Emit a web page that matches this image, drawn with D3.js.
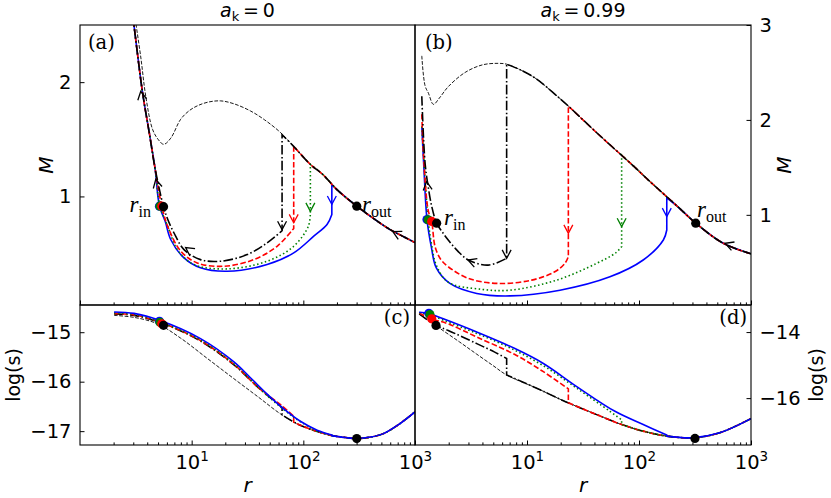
<!DOCTYPE html>
<html>
<head>
<meta charset="utf-8">
<script src="https://cdn.jsdelivr.net/npm/d3@7"></script>
<style>
  body { margin: 0; background: #fff; }
  svg { display: block; }
</style>
</head>
<body>
<div id="chart"></div>
<script>
// curve order in every per-curve list: black (dash-dot), red (dashed), green (dotted), blue (solid)
const curveNames = ["black", "red", "green", "blue"];

// ---- (a) a_k = 0 : Mach number ----
const aOuterR = [3.07, 3.5, 3.88, 4.46, 5.0, 5.62, 6.5, 7.97, 9.5, 11.2, 14, 18.2, 24, 33.6, 45, 62.3, 81.5, 115.6, 150, 200, 301, 450, 598, 800, 1000];
const aOuterM = [2.6, 2.22, 1.877, 1.588, 1.5, 1.456, 1.51, 1.675, 1.75, 1.792, 1.825, 1.836, 1.81, 1.748, 1.67, 1.56, 1.44, 1.28, 1.19, 1.06, 0.915, 0.79, 0.71, 0.645, 0.596];
const aInnerR = [2.95, 3.05, 3.63, 4.2, 4.7];
const aInnerM = [2.6, 2.49, 1.91, 1.54, 1.245];
const aLowR = [
  [5.6, 6.1, 6.95, 8.54, 12.0, 18.2, 31.4, 47.4, 64.5],
  [5.4, 6.2, 8.0, 11.2, 19.4, 36, 58.2, 82],
  [5.2, 6.1, 7.5, 10.5, 20.8, 47.4, 82, 111, 115.6],
  [5.15, 5.8, 6.49, 8.54, 12, 20.8, 47.4, 82, 124, 163, 180]
];
const aLowM = [
  [0.91, 0.8, 0.68, 0.535, 0.447, 0.433, 0.491, 0.594, 0.70],
  [0.915, 0.72, 0.52, 0.418, 0.389, 0.447, 0.564, 0.72],
  [0.915, 0.74, 0.53, 0.404, 0.366, 0.433, 0.564, 0.74, 0.857],
  [0.915, 0.78, 0.623, 0.462, 0.375, 0.345, 0.404, 0.506, 0.652, 0.754, 0.842]
];
const aShockR = [64.5, 82, 115.6, 180];
const aShockTop = [1.54, 1.44, 1.28, 1.105];
const aDotR = [5.6, 5.4, 5.2, 5.15];
const aDotM = [0.91, 0.915, 0.915, 0.915];
const aOutDot = [301, 0.915];
const aArrowTip = [0.71, 0.77, 0.87, 0.93];
const aFlowArrows = [[633, 0.693, 207], [8.83, 0.553, 215], [3.5, 1.92, 260], [4.77, 1.15, 257]];

// ---- (b) a_k = 0.99 : Mach number ----
const bOuterR = [1.15, 1.23, 1.32, 1.46, 1.65, 1.98, 2.8, 4.0, 5.54, 6.58, 9, 12.2, 17, 23.4, 41.9, 90, 125, 220, 321, 566, 1000];
const bOuterM = [2.675, 2.36, 2.28, 2.164, 2.23, 2.35, 2.50, 2.58, 2.596, 2.587, 2.52, 2.43, 2.29, 2.146, 1.865, 1.51, 1.352, 1.09, 0.912, 0.70, 0.59];
const bPostR = [
  [1.15, 1.23, 1.31, 1.41, 1.56, 1.75, 1.98, 2.4, 3.0, 4.5, 6.58],
  [1.15, 1.19, 1.31, 1.41, 1.51, 1.7, 1.98, 3.0, 5.54, 11, 17.7, 21.8, 23.4],
  [1.15, 1.22, 1.31, 1.4, 1.55, 1.98, 3.94, 7.05, 18.4, 41.9, 62, 70],
  [1.15, 1.2, 1.28, 1.4, 1.55, 2.05, 3.56, 7.05, 19.7, 55, 109, 165, 177]
];
const bPostM = [
  [2.25, 1.545, 1.3, 1.09, 0.912, 0.82, 0.735, 0.62, 0.524, 0.47, 0.542],
  [2.06, 1.64, 1.05, 0.93, 0.665, 0.53, 0.453, 0.33, 0.277, 0.312, 0.40, 0.489, 0.56],
  [1.93, 1.45, 0.947, 0.70, 0.47, 0.29, 0.215, 0.206, 0.312, 0.489, 0.6, 0.665],
  [1.93, 1.5, 0.95, 0.66, 0.44, 0.277, 0.172, 0.146, 0.206, 0.347, 0.524, 0.735, 0.84]
];
const bShockR = [6.58, 23.4, 70, 177];
const bShockTop = [2.587, 2.146, 1.63, 1.18];
const bDotR = [1.56, 1.41, 1.31, 1.28];
const bDotM = [0.912, 0.93, 0.947, 0.95];
const bOutDot = [321, 0.912];
const bArrowTip = [0.542, 0.806, 0.876, 0.982];
const bFlowArrows = [[587, 0.70, 200], [2.97, 0.524, 200], [1.27, 1.35, 263]];

// ---- (c) a_k = 0 : log(s) ----
const cOuterR = [2.02, 3.05, 4.94, 7.97, 13.8, 23.9, 40, 62.3, 87.7, 115.6, 174, 240, 301, 400, 521, 700, 1000];
const cOuterV = [-14.66, -14.7, -14.83, -15.12, -15.53, -15.94, -16.32, -16.65, -16.85, -16.96, -17.08, -17.13, -17.15, -17.12, -17.05, -16.88, -16.61];
const cUpR = [
  [2.02, 3.05, 5.6, 12, 23.9, 40, 64.5],
  [2.02, 3.05, 5.4, 12, 23.9, 40, 64.5, 82],
  [2.02, 3.05, 5.2, 12, 23.9, 47.4, 82, 115.6],
  [2.02, 3.05, 5.15, 12, 23.9, 33.6, 47.4, 66.8, 94, 133, 180]
];
const cUpV = [
  [-14.63, -14.66, -14.83, -15.18, -15.66, -16.13, -16.52],
  [-14.62, -14.65, -14.81, -15.17, -15.65, -16.13, -16.49, -16.7],
  [-14.61, -14.64, -14.79, -15.16, -15.64, -16.28, -16.72, -16.93],
  [-14.59, -14.62, -14.76, -15.13, -15.6, -15.92, -16.25, -16.55, -16.8, -16.98, -17.08]
];
const cShockLow = [-16.67, -16.82, -16.96, -17.09];
const cDotV = [-14.86, -14.83, -14.8, -14.78];
const cOutDot = [301, -17.15];

// ---- (d) a_k = 0.99 : log(s) ----
const dOuterR = [1.09, 1.56, 2.5, 3.56, 5.0, 6.58, 12.2, 21.8, 41.9, 70, 109, 177, 303, 525, 1000];
const dOuterV = [-13.45, -13.82, -14.3, -14.67, -15.02, -15.3, -15.7, -16.1, -16.5, -16.8, -17.0, -17.15, -17.2, -17.05, -16.62];
const dUpR = [
  [1.09, 1.54, 1.98, 3.56, 5.1, 6.58],
  [1.09, 1.41, 1.98, 3.56, 7.8, 14, 23.4],
  [1.09, 1.36, 1.79, 3.56, 7.05, 14, 27.8, 55, 70],
  [1.09, 1.33, 1.79, 3.56, 7.8, 14, 27.8, 61, 109, 177]
];
const dUpV = [
  [-13.45, -13.8, -13.95, -14.35, -14.6, -14.8],
  [-13.42, -13.6, -13.75, -14.15, -14.68, -15.2, -15.72],
  [-13.41, -13.48, -13.64, -14.04, -14.48, -15.02, -15.7, -16.4, -16.66],
  [-13.4, -13.44, -13.6, -14.0, -14.5, -14.95, -15.65, -16.4, -16.8, -17.12]
];
const dShockLow = [-15.3, -16.14, -16.8, -17.15];
const dDotR = [1.54, 1.41, 1.36, 1.33];
const dDotV = [-13.8, -13.6, -13.47, -13.43];
const dOutDot = [316, -17.22];

// tick values
const xMajor = [1, 10, 100, 1000];
const xMinor = [1, 10, 100].flatMap(d => [2, 3, 4, 5, 6, 7, 8, 9].map(k => k * d));
const aTicks = [1, 2];
const bTicks = [1, 2, 3];
const cTicks = [-15, -16, -17];
const dTicks = [-14, -16];

const styles = {
  black: { color: "#000000", dash: "9.6,2.4,1.5,2.4" },
  red: { color: "#ff0000", dash: "5.5,2.4" },
  green: { color: "#008000", dash: "1.5,2.5" },
  blue: { color: "#0000ff", dash: null }
};

const W = 831, H = 498;
const svg = d3.select("#chart").append("svg").attr("width", W).attr("height", H);

const xL = d3.scaleLog().domain([1, 1000]).range([80, 415]);
const xR = d3.scaleLog().domain([1, 1000]).range([415, 751]);
const yA = d3.scaleLinear().domain([0.05, 2.5]).range([305, 25]);
const yB = d3.scaleLinear().domain([0.05, 3]).range([305, 25]);
const yC = d3.scaleLinear().domain([-17.28, -14.45]).range([445, 305]);
const yD = d3.scaleLinear().domain([-17.42, -13.18]).range([445, 305]);

const zip = (a, b) => a.map((v, i) => [v, b[i]]);

function chevron(g, x, y, angDeg, color) {
  const a = angDeg * Math.PI / 180, L = 9.5, h = 28 * Math.PI / 180;
  const p1 = [x - L * Math.cos(a - h), y - L * Math.sin(a - h)];
  const p2 = [x - L * Math.cos(a + h), y - L * Math.sin(a + h)];
  g.append("path")
    .attr("d", `M${p1[0]},${p1[1]}L${x},${y}L${p2[0]},${p2[1]}`)
    .attr("fill", "none")
    .attr("stroke", color)
    .attr("stroke-width", 1.3);
}

function panel(p) {
  const [x0, x1] = p.x.range();
  const [y1, y0] = p.y.range();
  svg.append("clipPath").attr("id", "clip-" + p.id)
    .append("rect").attr("x", x0).attr("y", y0).attr("width", x1 - x0).attr("height", y1 - y0);
  const g = svg.append("g");
  const plot = g.append("g").attr("clip-path", `url(#clip-${p.id})`);

  const line = d3.line()
    .x(d => p.x(d[0]))
    .y(d => p.y(d[1]))
    .curve(d3.curveCatmullRom.alpha(0.5));

  // thin dashed: shock-free solution / outer branch
  plot.append("path")
    .attr("d", line(p.outer))
    .attr("fill", "none")
    .attr("stroke", "#000")
    .attr("stroke-width", 0.9)
    .attr("stroke-dasharray", "3.7,1.6");

  // each curve: post-shock part, vertical jump, pre-shock outer part
  p.order.forEach(i => {
    const st = styles[curveNames[i]];
    const pre = [[p.shockR[i], p.shockEnd[i]]].concat(p.outer.filter(d => d[0] > p.shockR[i]));
    const dPath = line(p.post[i]) + line(pre).replace(/^M/, "L");
    plot.append("path")
      .attr("d", dPath)
      .attr("fill", "none")
      .attr("stroke", st.color)
      .attr("stroke-width", 1.6)
      .attr("stroke-dasharray", st.dash);
  });

  // arrows
  if (p.tips) {
    p.order.forEach(i => {
      chevron(plot, p.x(p.shockR[i]), p.y(p.tips[i]), 90, styles[curveNames[i]].color);
    });
  }
  (p.flow || []).forEach(f => chevron(plot, p.x(f[0]), p.y(f[1]), f[2], "#000"));

  // sonic points
  [3, 2, 1, 0].forEach(i => {
    plot.append("circle")
      .attr("cx", p.x(p.dots[i][0]))
      .attr("cy", p.y(p.dots[i][1]))
      .attr("r", 4.6)
      .attr("fill", styles[curveNames[i]].color);
  });
  plot.append("circle")
    .attr("cx", p.x(p.outDot[0]))
    .attr("cy", p.y(p.outDot[1]))
    .attr("r", 4.6)
    .attr("fill", "#000");

  // frame
  g.append("rect")
    .attr("x", x0).attr("y", y0).attr("width", x1 - x0).attr("height", y1 - y0)
    .attr("fill", "none").attr("stroke", "#000").attr("stroke-width", 1.1);

  // x ticks (inward)
  g.append("g").attr("transform", `translate(0,${y1})`)
    .call(d3.axisBottom(p.x).tickValues(xMinor).tickSize(-2.6).tickFormat(""))
    .call(s => s.select(".domain").remove());
  const xa = g.append("g").attr("transform", `translate(0,${y1})`)
    .call(d3.axisBottom(p.x).tickValues(p.xLabels ? xMajor.slice(1) : xMajor)
      .tickSize(-4.5).tickPadding(10).tickFormat(p.xLabels ? (d => d) : ""))
    .call(s => s.select(".domain").remove());
  if (p.xLabels) {
    xa.selectAll("text").each(function (d) {
      const t = d3.select(this).text(null)
        .attr("font-family", "DejaVu Sans").attr("font-size", 19.5).attr("fill", "#000");
      t.append("tspan").text("10");
      t.append("tspan").attr("font-size", 13.5).attr("dy", "-0.6em").text(Math.round(Math.log10(d)));
    });
  }

  // y ticks (inward)
  const yAxis = (p.side === "left" ? d3.axisLeft(p.y) : d3.axisRight(p.y))
    .tickValues(p.yTicks).tickSize(-4.5).tickPadding(8.5).tickFormat(d3.format("d"));
  g.append("g").attr("transform", `translate(${p.side === "left" ? x0 : x1},0)`)
    .call(yAxis)
    .call(s => s.select(".domain").remove())
    .call(s => s.selectAll("text").attr("font-family", "DejaVu Sans").attr("font-size", 19.5).attr("fill", "#000"));

  // panel letter
  g.append("text")
    .attr("x", p.letterPos[0]).attr("y", p.letterPos[1])
    .attr("text-anchor", p.letterAnchor)
    .attr("font-family", "DejaVu Serif").attr("font-size", 19.5)
    .text(p.letter);
}

const order0 = [3, 2, 1, 0];  // black drawn last
const order1 = [0, 1, 2, 3];  // blue drawn last

panel({
  id: "a", x: xL, y: yA, side: "left", yTicks: aTicks, xLabels: false, order: order0,
  outer: zip(aOuterR, aOuterM),
  post: aLowR.map((r, i) => zip(aInnerR, aInnerM).concat(zip(r, aLowM[i]))),
  shockR: aShockR, shockEnd: aShockTop, tips: aArrowTip, flow: aFlowArrows,
  dots: zip(aDotR, aDotM), outDot: aOutDot,
  letter: "(a)", letterPos: [88, 49], letterAnchor: "start"
});
panel({
  id: "b", x: xR, y: yB, side: "right", yTicks: bTicks, xLabels: false, order: order0,
  outer: zip(bOuterR, bOuterM),
  post: bPostR.map((r, i) => zip(r, bPostM[i])),
  shockR: bShockR, shockEnd: bShockTop, tips: bArrowTip, flow: bFlowArrows,
  dots: zip(bDotR, bDotM), outDot: bOutDot,
  letter: "(b)", letterPos: [425, 49], letterAnchor: "start"
});
panel({
  id: "c", x: xL, y: yC, side: "left", yTicks: cTicks, xLabels: true, order: order1,
  outer: zip(cOuterR, cOuterV),
  post: cUpR.map((r, i) => zip(r, cUpV[i])),
  shockR: aShockR, shockEnd: cShockLow,
  dots: zip(aDotR, cDotV), outDot: cOutDot,
  letter: "(c)", letterPos: [410, 324], letterAnchor: "end"
});
panel({
  id: "d", x: xR, y: yD, side: "right", yTicks: dTicks, xLabels: true, order: order1,
  outer: zip(dOuterR, dOuterV),
  post: dUpR.map((r, i) => zip(r, dUpV[i])),
  shockR: bShockR, shockEnd: dShockLow,
  dots: zip(dDotR, dDotV), outDot: dOutDot,
  letter: "(d)", letterPos: [747, 324], letterAnchor: "end"
});

// sonic point labels
function subLabel(x, y, main, sub, anchor) {
  const t = svg.append("text").attr("x", x).attr("y", y).attr("text-anchor", anchor)
    .attr("font-family", "Liberation Serif").attr("font-size", 23);
  t.append("tspan").attr("font-style", "italic").text(main);
  t.append("tspan").attr("font-size", 16).attr("dy", 5).text(sub);
}
subLabel(151, 212, "r", "in", "end");
subLabel(362, 212, "r", "out", "start");
subLabel(444, 225, "r", "in", "start");
subLabel(697, 217, "r", "out", "start");

// titles
function title(x, val) {
  const t = svg.append("text").attr("x", x).attr("y", 17).attr("text-anchor", "middle")
    .attr("font-family", "DejaVu Sans").attr("font-size", 19);
  t.append("tspan").attr("font-style", "italic").text("a");
  t.append("tspan").attr("font-size", 13).attr("dy", 4).text("k");
  t.append("tspan").attr("dy", -4).text("\u2009=\u2009" + val);
}
title(247.5, "0");
title(583, "0.99");

// axis labels
function yLabel(x, y, txt, italic, size) {
  svg.append("text").attr("transform", `translate(${x},${y}) rotate(-90)`)
    .attr("text-anchor", "middle")
    .attr("font-family", "DejaVu Sans").attr("font-size", size)
    .attr("font-style", italic ? "italic" : "normal")
    .text(txt);
}
yLabel(53, 165, "M", true, 20);
yLabel(791, 165, "M", true, 20);
yLabel(20, 375, "log(s)", false, 19);
yLabel(823, 375, "log(s)", false, 19);

[247.5, 583].forEach(x => {
  svg.append("text").attr("x", x).attr("y", 492).attr("text-anchor", "middle")
    .attr("font-family", "DejaVu Sans").attr("font-size", 20).attr("font-style", "italic")
    .text("r");
});
</script>
</body>
</html>
